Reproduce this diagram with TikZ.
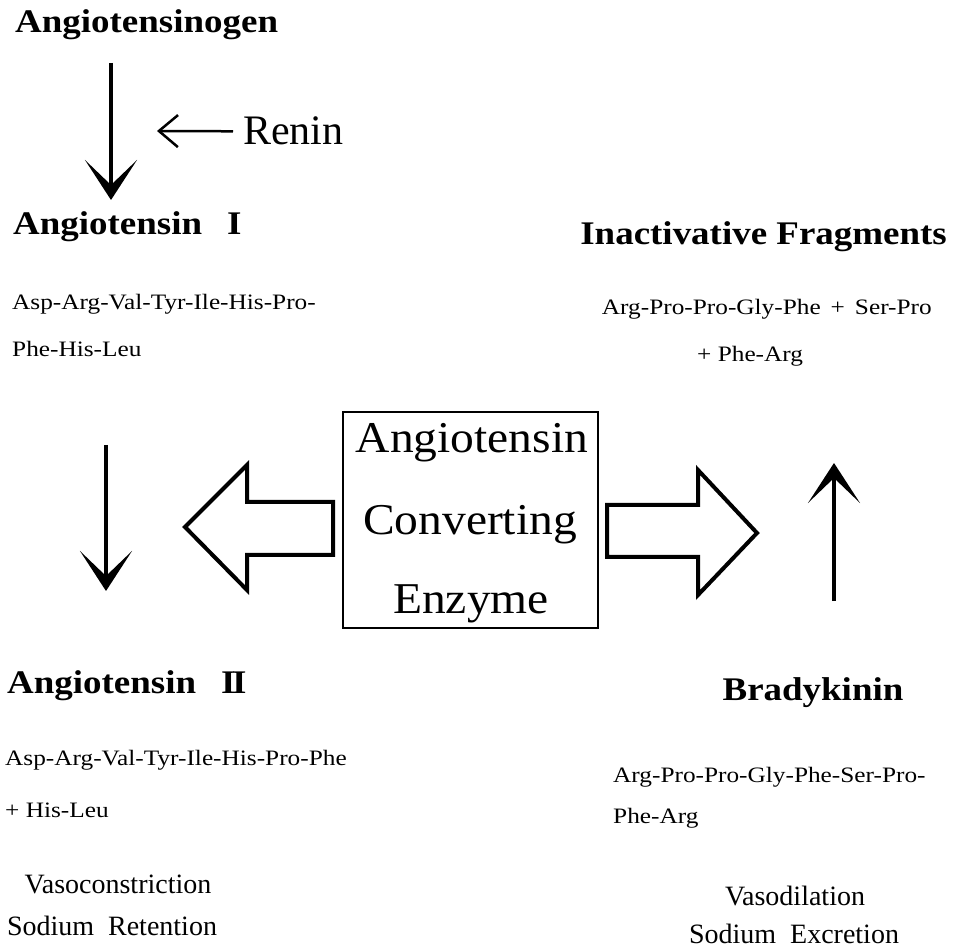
\documentclass[tikz,border=0pt]{standalone}
\usepackage{fontspec}
\setmainfont{Liberation Serif}
\newfontfamily\hdf[FakeStretch=1.12]{Liberation Serif}
\newfontfamily\sqf[FakeStretch=1.15]{Liberation Serif}
\newfontfamily\bxf[FakeStretch=1.08]{Liberation Serif}
\usetikzlibrary{arrows.meta}
\begin{document}
\begin{tikzpicture}[x=1pt,y=-1pt,
  hd/.style={font={\hdf\bfseries\fontsize{33}{36}\selectfont}, inner sep=0pt, anchor=base west},
  sq/.style={font={\sqf\fontsize{22}{24}\selectfont}, inner sep=0pt, anchor=base west},
  lg/.style={font={\fontsize{28}{30}\selectfont}, inner sep=0pt, anchor=base},
  bx/.style={font={\bxf\fontsize{44}{46}\selectfont}, inner sep=0pt, anchor=base},
  bigarrow/.style={line width=4pt, -{Stealth[length=40pt, width=52pt, inset=25pt]}},
  thinarrow/.style={line width=2.5pt, -{Straight Barb[length=19pt, width=32pt, line width=2.5pt]}},
  block/.style={line width=4pt, fill=white, line join=miter}
]
\useasboundingbox (0,0) rectangle (954,949);

% top left
\node[hd] (agen) at (15,33) {Angiotensinogen};
\node[font={\fontsize{42}{44}\selectfont}, inner sep=0pt, anchor=base west] (ren) at (243,145) {Renin};
\node[hd] (a1) at (13,235) {Angiotensin\hspace{25pt}I};
\node[sq] (s1a) at (12,310) {Asp-Arg-Val-Tyr-Ile-His-Pro-};
\node[sq] (s1b) at (12,357) {Phe-His-Leu};

% top right
\node[hd, anchor=base east] (frag) at (947,245) {Inactivative Fragments};
\node[sq, anchor=base east] (f1) at (932,315) {Arg-Pro-Pro-Gly-Phe \,+\, Ser-Pro};
\node[sq] (f2) at (697,362) {+ Phe-Arg};

% centre box
\node[draw, line width=2.5pt, minimum width=255pt, minimum height=216pt, inner sep=0pt] (ace) at (470.5,520) {};
\node[bx] (ace1) at (472,453) {Angiotensin};
\node[bx] (ace2) at (470,535) {Converting};
\node[bx] (ace3) at (471,613) {Enzyme};

% block arrows
\draw[block] (333,502) -- (247,502) -- (247,465) -- (185,527) -- (247,590) -- (247,555) -- (333,555) -- cycle;
\draw[block] (607,505) -- (698,505) -- (698,470) -- (757,533) -- (698,595) -- (698,557) -- (607,557) -- cycle;

% bottom left
\node[hd] (a2) at (7,693) {Angiotensin\hspace{25pt}I\kern-3.5pt I};
\node[sq] (s2a) at (5,765) {Asp-Arg-Val-Tyr-Ile-His-Pro-Phe};
\node[sq] (s2b) at (5,817) {+ His-Leu};
\node[lg] (vc) at (118,893) {Vasoconstriction};
\node[lg] (sr) at (112,935) {Sodium\ \ Retention};

% bottom right
\node[hd, anchor=base] (bk) at (813,700) {Bradykinin};
\node[sq] (b1) at (613,782) {Arg-Pro-Pro-Gly-Phe-Ser-Pro-};
\node[sq] (b2) at (613,823) {Phe-Arg};
\node[lg] (vd) at (795,905) {Vasodilation};
\node[lg] (se) at (794,943) {Sodium\ \ Excretion};

% arrows
\coordinate (d1s) at (111,63);
\coordinate (d1e) at (111,200);
\draw[bigarrow] (d1s) -- (d1e);
\coordinate (rtip) at (157,131);
\draw[thinarrow] ([xshift=-10pt]ren.west) -- (rtip);
\coordinate (d2s) at (106,445);
\coordinate (d2e) at (106,591);
\draw[bigarrow] (d2s) -- (d2e);
\coordinate (u1s) at (834,601);
\coordinate (u1e) at (834,463);
\draw[bigarrow] (u1s) -- (u1e);
\end{tikzpicture}
\end{document}
